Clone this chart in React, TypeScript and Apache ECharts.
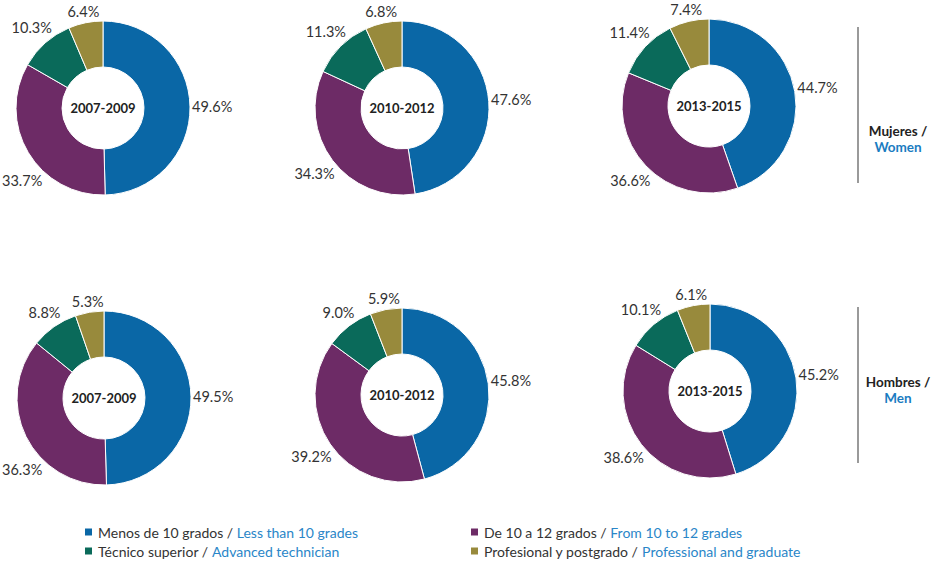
import React, { useEffect, useRef } from "react";
import * as echarts from "echarts";

const categories = [
  "Menos de 10 grados",
  "De 10 a 12 grados",
  "Técnico superior",
  "Profesional y postgrado",
];
const categoriesEn = [
  "Less than 10 grades",
  "From 10 to 12 grades",
  "Advanced technician",
  "Professional and graduate",
];
const periods = ["2007-2009", "2010-2012", "2013-2015"];
const women2007 = [49.6, 33.7, 10.3, 6.4];
const women2010 = [47.6, 34.3, 11.3, 6.8];
const women2013 = [44.7, 36.6, 11.4, 7.4];
const men2007 = [49.5, 36.3, 8.8, 5.3];
const men2010 = [45.8, 39.2, 9.0, 5.9];
const men2013 = [45.2, 38.6, 10.1, 6.1];
const groupLabels = [
  ["Mujeres /", "Women"],
  ["Hombres /", "Men"],
];

const colors = ["#0a67a6", "#6d2b66", "#0a6a5a", "#988a3c"];
const FONT = "Lato, 'Open Sans', sans-serif";
const OUTER = 87;
const LABEL_R = 89;

export default function App() {
  const ref = useRef<HTMLDivElement>(null);
  useEffect(() => {
    if (!ref.current) return;
    const chart = echarts.init(ref.current, undefined, { renderer: "svg" });
    const rows = [
      [women2007, women2010, women2013],
      [men2007, men2010, men2013],
    ];
    const centers = [
      [
        [103, 108],
        [402, 108],
        [709, 106],
      ],
      [
        [104, 398],
        [402, 395],
        [710, 391],
      ],
    ];
    const flatCenters: number[][] = [];
    const series: any[] = [];
    const labelSeries: any[] = [];
    const graphics: any[] = [];
    rows.forEach((row, ri) => {
      row.forEach((vals, ci) => {
        const c = centers[ri][ci];
        flatCenters.push(c);
        const data = vals.map((v, i) => ({ name: categories[i], value: v }));
        series.push({
          type: "pie",
          center: c,
          radius: [41, OUTER],
          startAngle: 90,
          clockwise: true,
          itemStyle: { borderColor: "#fff", borderWidth: 1 },
          label: { show: false },
          labelLine: { show: false },
          emphasis: { disabled: true },
          data,
        });
        graphics.push({
          type: "text",
          x: c[0],
          y: c[1],
          style: {
            text: periods[ci],
            align: "center",
            verticalAlign: "middle",
            font: `bold 13px ${FONT}`,
            fill: "#222",
          },
        });
      });
    });
    const nPies = series.length;
    flatCenters.forEach((c, k) => {
      const data = series[k].data;
      // transparent ring used only to place the percentage labels at each slice's mid-angle
      labelSeries.push({
        type: "pie",
        center: c,
        radius: [OUTER + 1, OUTER + 33],
        startAngle: 90,
        clockwise: true,
        silent: true,
        itemStyle: { color: "rgba(0,0,0,0)" },
        label: {
          show: true,
          position: "inside",
          rotate: 0,
          formatter: (p: any) => Number(p.value).toFixed(1) + "%",
          fontFamily: FONT,
          fontSize: 14.5,
          color: "#333",
        },
        labelLine: { show: false },
        emphasis: { disabled: true },
        labelLayout: (p: any) => {
          const c0 = flatCenters[p.seriesIndex - nPies];
          if (!c0) return {};
          const r = p.labelRect;
          const hw = r.width / 2;
          const hh = r.height / 2;
          let dx = r.x + hw - c0[0];
          let dy = r.y + hh - c0[1];
          const len = Math.sqrt(dx * dx + dy * dy) || 1;
          dx /= len;
          dy /= len;
          const dist = (t: number) => {
            const ax = Math.max(0, Math.abs(dx * t) - hw);
            const ay = Math.max(0, Math.abs(dy * t) - hh);
            return Math.sqrt(ax * ax + ay * ay);
          };
          let lo = 0;
          let hi = 300;
          for (let i = 0; i < 40; i++) {
            const mid = (lo + hi) / 2;
            if (dist(mid) < LABEL_R) lo = mid;
            else hi = mid;
          }
          let x = c0[0] + dx * hi;
          let y = c0[1] + dy * hi;
          if (x - hw < 2) {
            x = 2 + hw;
            const ax = Math.max(0, Math.abs(x - c0[0]) - hw);
            const ay = Math.sqrt(Math.max(0, LABEL_R * LABEL_R - ax * ax));
            const need = hh + ay;
            if (Math.abs(y - c0[1]) < need) y = c0[1] + Math.sign(dy || 1) * need;
          }
          return { x, y, align: "center", verticalAlign: "middle" };
        },
        data,
      });
    });
    // group separators and labels
    const groupY = [
      [27, 183, 139],
      [307, 463, 390],
    ];
    groupY.forEach((g, gi) => {
      graphics.push({
        type: "line",
        shape: { x1: 858, y1: g[0], x2: 858, y2: g[1] },
        style: { stroke: "#9a9a9a", lineWidth: 2 },
      });
      graphics.push({
        type: "text",
        x: 898,
        y: g[2] - 8,
        style: {
          text: groupLabels[gi][0],
          align: "center",
          verticalAlign: "middle",
          font: `bold 13.5px ${FONT}`,
          fill: "#222",
        },
      });
      graphics.push({
        type: "text",
        x: 898,
        y: g[2] + 8,
        style: {
          text: groupLabels[gi][1],
          align: "center",
          verticalAlign: "middle",
          font: `bold 13.5px ${FONT}`,
          fill: "#1a7cc1",
        },
      });
    });

    const legendFmt = (name: string) => {
      const i = categories.indexOf(name);
      return `{a|${name} / }{b|${categoriesEn[i]}}`;
    };
    const legendText = {
      fontFamily: FONT,
      fontSize: 14,
      rich: {
        a: { color: "#333", fontFamily: FONT, fontSize: 14 },
        b: { color: "#2a86c8", fontFamily: FONT, fontSize: 14 },
      },
    };
    const legendPos = [
      [78, 520],
      [464, 520],
      [78, 539],
      [464, 539],
    ];
    const legends = [0, 1, 2, 3].map((ci, k) => ({
      left: legendPos[k][0],
      top: legendPos[k][1],
      icon: "rect",
      itemWidth: 9,
      itemHeight: 9,
      data: [categories[ci]],
      formatter: legendFmt,
      textStyle: legendText,
      selectedMode: false,
    }));
    chart.setOption({
      animation: false,
      color: colors,
      legend: legends,
      graphic: graphics,
      series: [...series, ...labelSeries],
    });
    return () => chart.dispose();
  }, []);
  return (
    <div
      ref={ref}
      style={{ position: "fixed", left: 0, top: 0, width: 934, height: 561, background: "#fff" }}
    />
  );
}
